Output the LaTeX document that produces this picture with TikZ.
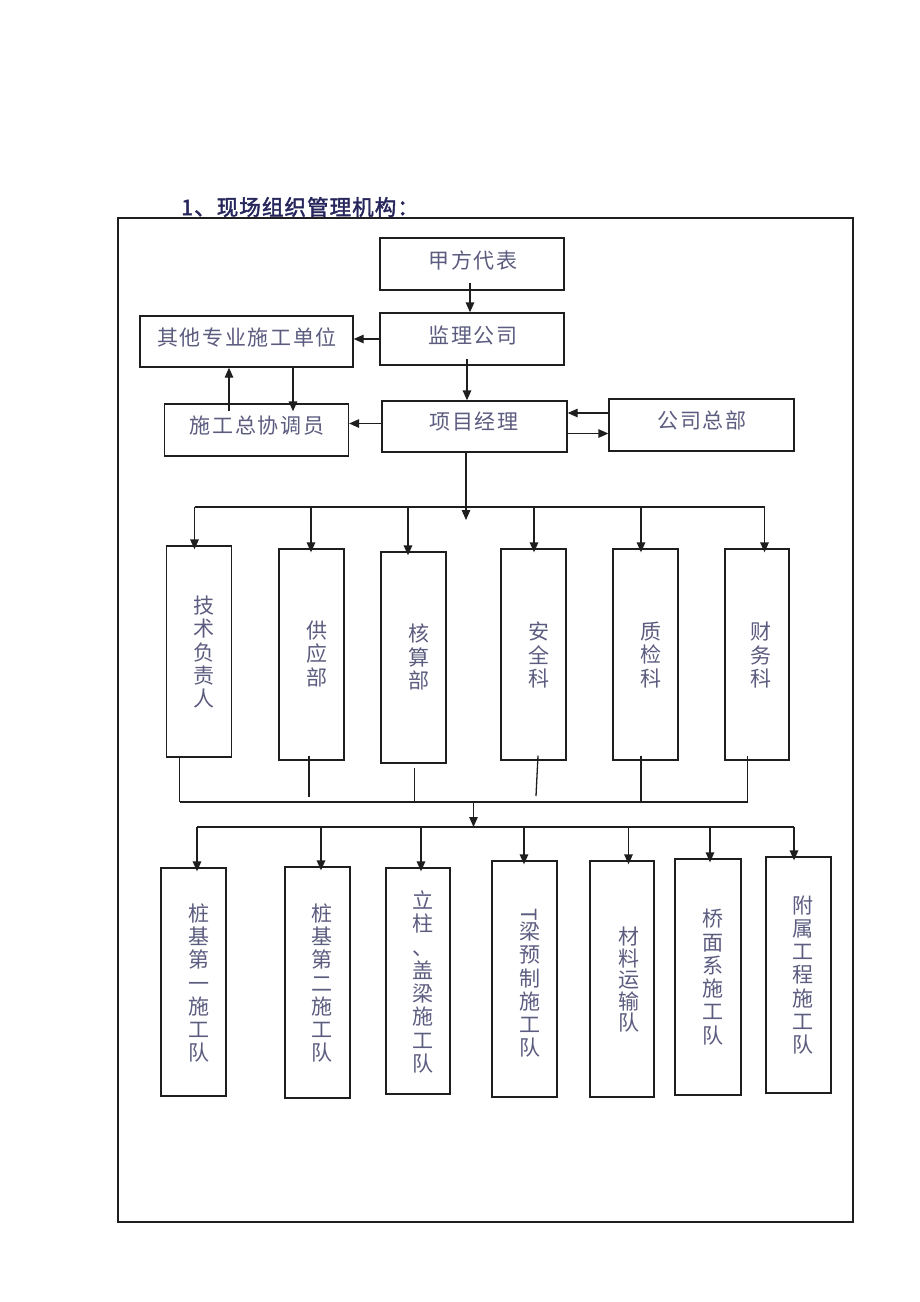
\documentclass[tikz,border=0pt]{standalone}
\usepackage{fontspec}
\newfontfamily\cjkh[LetterSpace=8]{Noto Sans CJK SC}
\newfontfamily\cjkv{Noto Sans CJK SC}
\newfontfamily\cjkt[FakeBold=2,LetterSpace=5]{Noto Sans CJK SC}
\usetikzlibrary{arrows.meta}
\definecolor{labc}{RGB}{92,92,128}
\definecolor{titc}{RGB}{38,38,92}
\definecolor{linec}{RGB}{30,30,30}
\begin{document}
\begin{tikzpicture}[x=1pt,y=-1pt,
  line/.style={draw=linec, line width=1.3pt},
  arr/.style={line, -{Triangle[length=10pt,width=8.5pt]}},
  arrin/.style={arr, shorten >=-4pt},
  box/.style={draw=linec, line width=1.3pt, rectangle, inner sep=0pt},
  htext/.style={text=labc, font=\cjkh\fontsize{21}{25}\selectfont, inner sep=0pt},
  vtext/.style={text=labc, font=\cjkv\fontsize{21}{23.3}\selectfont, align=center, inner sep=0pt}]
\fill[white] (0,0) rectangle (920,1302);
\useasboundingbox (0,0) rectangle (920,1302);

% title and frame
\node[anchor=west, text=titc, font=\cjkt\fontsize{21.5}{24}\selectfont, inner sep=0pt] (title) at (181,207) {1、现场组织管理机构：};
\draw[line] (118,218) rectangle (853,1222);

% upper boxes
\node[box, minimum width=184pt, minimum height=52pt] (jf) at (472,264) {};
\node[box, minimum width=184pt, minimum height=52pt] (jl) at (472,339) {};
\node[box, minimum width=213pt, minimum height=51pt] (qt) at (246.5,341.5) {};
\node[box, minimum width=184pt, minimum height=52pt] (zx) at (256.5,430) {};
\node[box, minimum width=185pt, minimum height=51pt] (xm) at (474.5,426.5) {};
\node[box, minimum width=185pt, minimum height=52pt] (gs) at (701.5,425) {};

\node[htext] (tjf) at (473,260) {甲方代表};
\node[htext] (tjl) at (473,335) {监理公司};
\node[htext] (tqt) at (247,337) {其他专业施工单位};
\node[htext] (tzx) at (257,426) {施工总协调员};
\node[htext] (txm) at (474,422) {项目经理};
\node[htext] (tgs) at (702,420) {公司总部};

% department boxes
\node[box, minimum width=65pt, minimum height=211pt] (c1) at (199,651.5) {};
\node[box, minimum width=65pt, minimum height=211pt] (c2) at (311.5,654.5) {};
\node[box, minimum width=65pt, minimum height=211pt] (c3) at (413.5,657.5) {};
\node[box, minimum width=65pt, minimum height=211pt] (c4) at (533.5,654.5) {};
\node[box, minimum width=65pt, minimum height=211pt] (c5) at (645.5,654.5) {};
\node[box, minimum width=64pt, minimum height=211pt] (c6) at (757,654.5) {};

\node[vtext] (tc1) at (204,652) {技\\术\\负\\责\\人};
\node[vtext] (tc2) at (317,654) {供\\应\\部};
\node[vtext] (tc3) at (419,657) {核\\算\\部};
\node[vtext] (tc4) at (539,655) {安\\全\\科};
\node[vtext] (tc5) at (651,655) {质\\检\\科};
\node[vtext] (tc6) at (761,655) {财\\务\\科};

% team boxes
\node[box, minimum width=65pt, minimum height=228pt] (b1) at (193.5,982) {};
\node[box, minimum width=65pt, minimum height=231pt] (b2) at (317.5,982.5) {};
\node[box, minimum width=64pt, minimum height=226pt] (b3) at (418,981) {};
\node[box, minimum width=65pt, minimum height=236pt] (b4) at (524.5,979) {};
\node[box, minimum width=64pt, minimum height=236pt] (b5) at (622,979) {};
\node[box, minimum width=66pt, minimum height=236pt] (b6) at (708,977) {};
\node[box, minimum width=65pt, minimum height=236pt] (b7) at (798.5,975) {};

\node[vtext] (tb1) at (199,983) {桩\\基\\第\\一\\施\\工\\队};
\node[vtext] (tb2) at (322,983) {桩\\基\\第\\二\\施\\工\\队};
\node[vtext] (tb3) at (423,982) {立\\柱\\、\\盖\\梁\\施\\工\\队};
\node[vtext] (tb4) at (529.5,983) {\rotatebox{-90}{T}\\梁\\预\\制\\施\\工\\队};
\node[vtext, font=\cjkv\fontsize{21}{21.5}\selectfont] (tb5) at (628.5,980) {材\\料\\运\\输\\队};
\node[vtext] (tb6) at (713,977) {桥\\面\\系\\施\\工\\队};
\node[vtext] (tb7) at (802.5,975) {附\\属\\工\\程\\施\\工\\队};

% upper connectors
\draw[arr, shorten <=-8pt] ([xshift=-2pt]jf.south) -- ([xshift=-2pt]jl.north);
\draw[arr] (jl.west) -- (jl.west -| qt.east);
\draw[arr, shorten <=-7pt] ([xshift=-5pt]jl.south) -- ([xshift=-5pt]jl.south |- xm.north);
\draw[arr] ([yshift=3pt]xm.west) -- ([yshift=3pt]xm.west -| zx.east);
\draw[arr] ([yshift=12pt]gs.west) -- ([yshift=12pt]gs.west -| xm.east);
\draw[arr] ([yshift=-7pt]xm.east) -- ([yshift=-7pt]xm.east -| gs.west);
\draw[arr, shorten <=-8pt] ([xshift=-27.5pt]zx.north) -- ([xshift=-27.5pt]zx.north |- qt.south);
\draw[arr, shorten >=-8pt] ([xshift=46.5pt]qt.south) -- ([xshift=46.5pt]qt.south |- zx.north);

% first bus
\coordinate (d1) at (466,520);
\coordinate (L1) at (194.5,507);
\coordinate (R1) at (764.5,507);
\coordinate (p2) at (311,507);
\coordinate (p3) at (408,507);
\coordinate (p4) at (534,507);
\coordinate (p5) at (641,507);
\draw[arr] (xm.south -| d1) -- (d1);
\draw[line] (L1) -- (R1);
\draw[arrin] (L1) -- (L1 |- c1.north);
\draw[arrin] (p2) -- (p2 |- c2.north);
\draw[arrin] (p3) -- (p3 |- c3.north);
\draw[arrin] (p4) -- (p4 |- c4.north);
\draw[arrin] (p5) -- (p5 |- c5.north);
\draw[arrin] (R1) -- (R1 |- c6.north);

% collecting bus
\coordinate (q1) at (179.5,802);
\coordinate (q2) at (309,797);
\coordinate (q3) at (414.5,802);
\coordinate (q4) at (536,796);
\coordinate (q5) at (641,802);
\coordinate (q6) at (747.5,802);
\draw[line] ([yshift=2pt]c1.south -| q1) -- (q1);
\draw[line] ([yshift=5pt]c2.south -| q2) -- (q2);
\draw[line] ([yshift=-4pt]c3.south -| q3) -- (q3);
\draw[line] ([xshift=4.5pt,yshift=5pt]c4.south) -- (q4);
\draw[line] ([yshift=5pt]c5.south -| q5) -- (q5);
\draw[line] ([yshift=5pt]c6.south -| q6) -- (q6);
\draw[line] (q1) -- (q6);

% second bus
\coordinate (m2) at (473.5,802);
\coordinate (M2) at (473.5,827);
\coordinate (L2) at (197,827);
\coordinate (R2) at (794,827);
\coordinate (r2) at (321,827);
\coordinate (r3) at (421,827);
\coordinate (r4) at (524,827);
\coordinate (r5) at (628.5,827);
\coordinate (r6) at (710,827);
\draw[arr] (m2) -- (M2);
\draw[line] (L2) -- (R2);
\draw[arrin] (L2) -- (L2 |- b1.north);
\draw[arrin] (r2) -- (r2 |- b2.north);
\draw[arrin] (r3) -- (r3 |- b3.north);
\draw[arrin] (r4) -- (r4 |- b4.north);
\draw[arrin] (r5) -- (r5 |- b5.north);
\draw[arrin] (r6) -- (r6 |- b6.north);
\draw[arrin] (R2) -- (R2 |- b7.north);
\end{tikzpicture}
\end{document}
